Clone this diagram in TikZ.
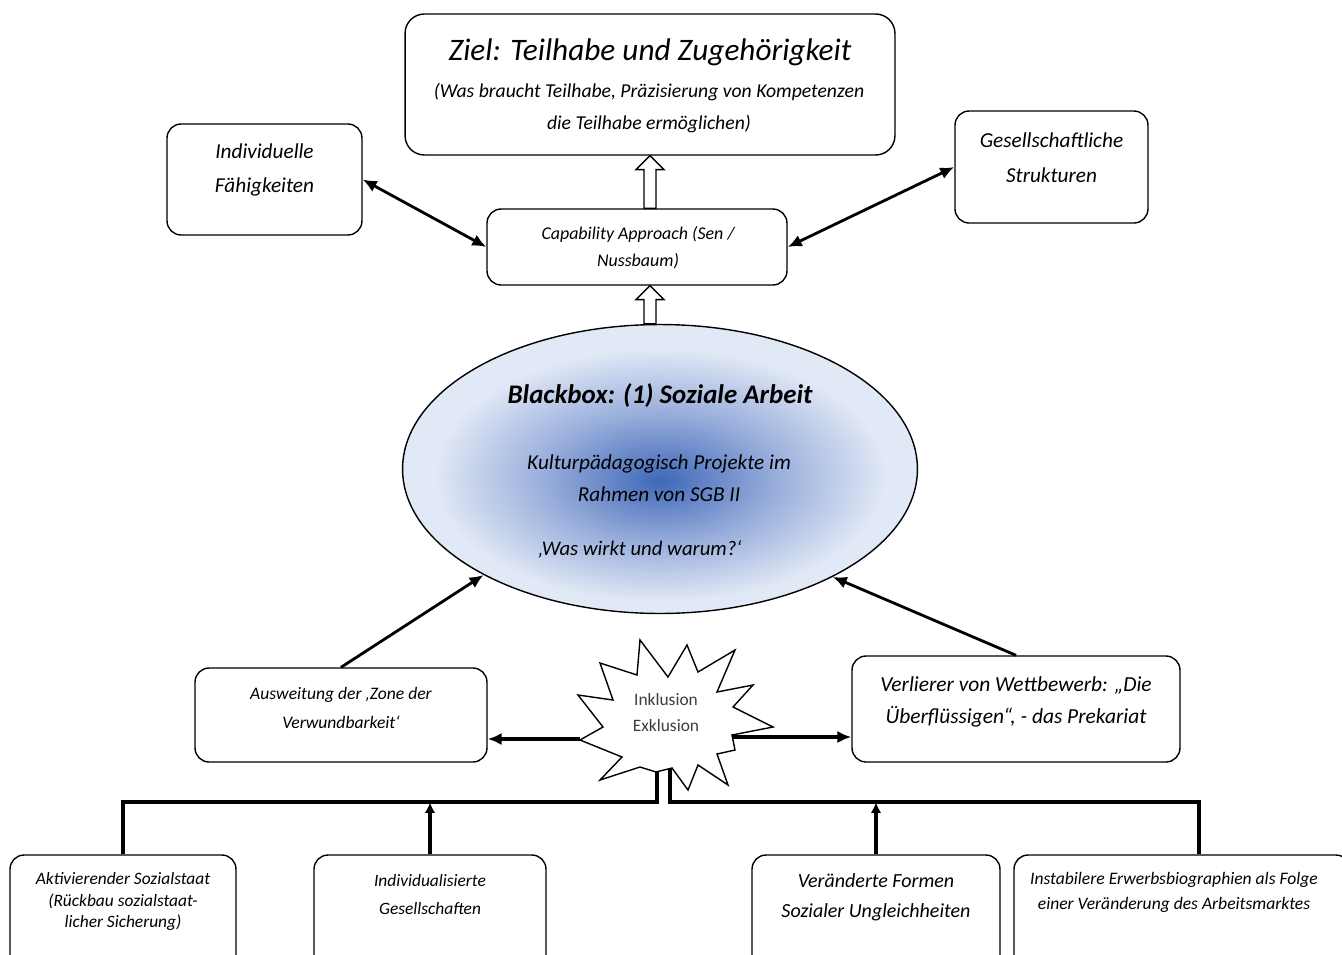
\documentclass[tikz,border=0pt]{standalone}
\usepackage{fontspec}
\setmainfont{Carlito}
\usetikzlibrary{arrows.meta,calc,shapes.geometric}
\definecolor{bdark}{RGB}{64,104,184}
\definecolor{bmid}{RGB}{150,172,218}
\definecolor{blight}{RGB}{226,233,246}
\definecolor{inkgray}{RGB}{60,60,70}
\pgfdeclareradialshading{blob}{\pgfpoint{0bp}{-2bp}}{color(0bp)=(bdark); color(11bp)=(bmid); color(22bp)=(blight); color(25bp)=(blight); color(50bp)=(blight)}
\newcommand\hollowarr[2]{%
  \draw[hollow] ($(#1)+(-6,0)$) -- ($(#2)+(-6,14)$) -- ($(#2)+(-14,14)$) -- (#2) -- ($(#2)+(14,14)$) -- ($(#2)+(6,14)$) -- ($(#1)+(6,0)$) -- cycle;}
\tikzset{
  box/.style={draw, rounded corners=8pt, line width=0.8pt, fill=white, inner sep=0pt},
  txt/.style={inner sep=0pt, align=center},
  biarrow/.style={line width=1.6pt, {Latex[length=8pt,width=7pt]}-{Latex[length=8pt,width=7pt]}},
  onearrow/.style={line width=1.6pt, -{Latex[length=8pt,width=7pt]}},
  busline/.style={line width=2.2pt},
  busarrow/.style={line width=2.2pt, -{Latex[length=6pt,width=6pt]}},
  hollow/.style={draw, line width=0.8pt, fill=white},
}
\begin{document}
\begin{tikzpicture}[x=0.02cm,y=-0.02cm]
\useasboundingbox (0,0) rectangle (1342,954);
\clip (0,0) rectangle (1342,954);

% top goal
\node[box, rounded corners=11pt, minimum width=9.8cm, minimum height=2.82cm] (ziel) at (650,84.5) {};
\node[txt, font=\itshape\fontsize{17.8}{20}\selectfont] (zielT) at (650,52) {Ziel: Teilhabe und Zugehörigkeit};
\node[txt, font=\itshape\fontsize{11.2}{18}\selectfont] (zielS) at (649,108) {(Was braucht Teilhabe, Präzisierung von Kompetenzen\\die Teilhabe ermöglichen)};

% side boxes
\node[box, minimum width=3.9cm, minimum height=2.22cm] (indiv) at (264.5,179.5) {};
\node[txt, font=\itshape\fontsize{12.1}{19.3}\selectfont] (indivT) at (264.5,170) {Individuelle\\Fähigkeiten};
\node[box, minimum width=3.86cm, minimum height=2.24cm] (gesell) at (1051.5,167) {};
\node[txt, font=\itshape\fontsize{12.1}{19.8}\selectfont] (gesellT) at (1051.5,157.5) {Gesellschaftliche\\Strukturen};

% capability
\node[box, minimum width=6cm, minimum height=1.52cm] (cap) at (637,247) {};
\node[txt, font=\itshape\fontsize{10.2}{15.3}\selectfont] (capT) at (638,247.5) {Capability Approach (Sen /\\Nussbaum)};

% ellipse
\node[ellipse, draw, line width=0.8pt, shade, shading=blob, minimum width=10.3cm, minimum height=5.78cm, inner sep=0pt] (ell) at (660,469) {};
\node[txt, font=\bfseries\itshape\fontsize{15.3}{17}\selectfont] (ellT) at (660,396) {Blackbox: (1) Soziale Arbeit};
\node[txt, font=\itshape\fontsize{12.1}{18}\selectfont] (ellS) at (659,478) {Kulturpädagogisch Projekte im\\Rahmen von SGB II};
\node[txt, font=\itshape\fontsize{11.8}{13}\selectfont] (ellQ) at (640,549) {‚Was wirkt und warum?‘};

% hollow arrows
\hollowarr{ziel.south |- cap.north}{ziel.south}
\hollowarr{ziel.south |- ell.north}{ziel.south |- cap.south}

% bidirectional arrows
\draw[biarrow] (indiv.east) -- (cap.west);
\draw[biarrow] (gesell.west) -- (cap.east);

% middle boxes
\node[box, minimum width=5.84cm, minimum height=1.88cm] (ausw) at (341,715) {};
\node[txt, font=\itshape\fontsize{10}{17}\selectfont] (auswT) at (341,708) {Ausweitung der ‚Zone der\\Verwundbarkeit‘};
\node[box, minimum width=6.56cm, minimum height=2.12cm] (verl) at (1016,709) {};
\node[txt, font=\itshape\fontsize{12.2}{18}\selectfont] (verlT) at (1016,702) {Verlierer von Wettbewerb: „Die\\Überflüssigen“, - das Prekariat};

\draw[onearrow] (ausw.north) -- (ell.211);
\draw[onearrow] (verl.north) -- (ell.328);

% star
\draw[line width=0.8pt, fill=white, line join=miter]
  (640,640) -- (668,677) -- (687,645) -- (698,672) -- (735,650) -- (717,692)
  -- (753,685) -- (733,707) -- (773,727) -- (732,735) -- (735,750) -- (717,754)
  -- (728,785) -- (698,765) -- (688,790) -- (672,768) -- (656,772) -- (640,767)
  -- (600,780) -- (622,757) -- (580,740) -- (603,727) -- (578,695) -- (613,700)
  -- (600,663) -- (637,675) -- cycle;
\node[txt, text=inkgray, font=\fontsize{9.9}{15.3}\selectfont] (star) at (666,712.5) {Inklusion\\Exklusion};
\coordinate (s1) at (580,739);
\coordinate (s2) at (732,737);
\coordinate (sb1) at (657,771);
\coordinate (sb2) at (670,768);
\draw[onearrow, line width=2pt] (s1) -- (s1 -| ausw.east);
\draw[onearrow, line width=2pt] (s2) -- (s2 -| verl.west);

% bottom boxes
\node[box, minimum width=4.52cm, minimum height=2.4cm] (aktiv) at (123,915) {};
\node[txt, font=\itshape\fontsize{9.9}{12.2}\selectfont] (aktivT) at (123,901.5) {Aktivierender Sozialstaat\\(Rückbau sozialstaat-\\licher Sicherung)};
\node[box, minimum width=4.64cm, minimum height=2.4cm] (indiv2) at (430,915) {};
\node[txt, font=\itshape\fontsize{9.9}{16.4}\selectfont] (indiv2T) at (430,894.5) {Individualisierte\\Gesellschaften};
\node[box, minimum width=4.96cm, minimum height=2.4cm] (veraend) at (876,915) {};
\node[txt, font=\itshape\fontsize{11.4}{17}\selectfont] (veraendT) at (876,897) {Veränderte Formen\\Sozialer Ungleichheiten};
\node[box, minimum width=6.72cm, minimum height=2.4cm] (instab) at (1182,915) {};
\node[txt, font=\itshape\fontsize{10}{14.2}\selectfont] (instabT) at (1174,892.5) {Instabilere Erwerbsbiographien als Folge\\einer Veränderung des Arbeitsmarktes};

% bus lines
\draw[busline] (aktiv.north) -- ++(0,-52) -| (sb1);
\draw[busline] ($(instab.north west)+(186,0)$) -- ++(0,-52) -| (sb2);
\draw[busarrow] (indiv2.north) -- ++(0,-52);
\draw[busarrow] (veraend.north) -- ++(0,-52);
\end{tikzpicture}
\end{document}
